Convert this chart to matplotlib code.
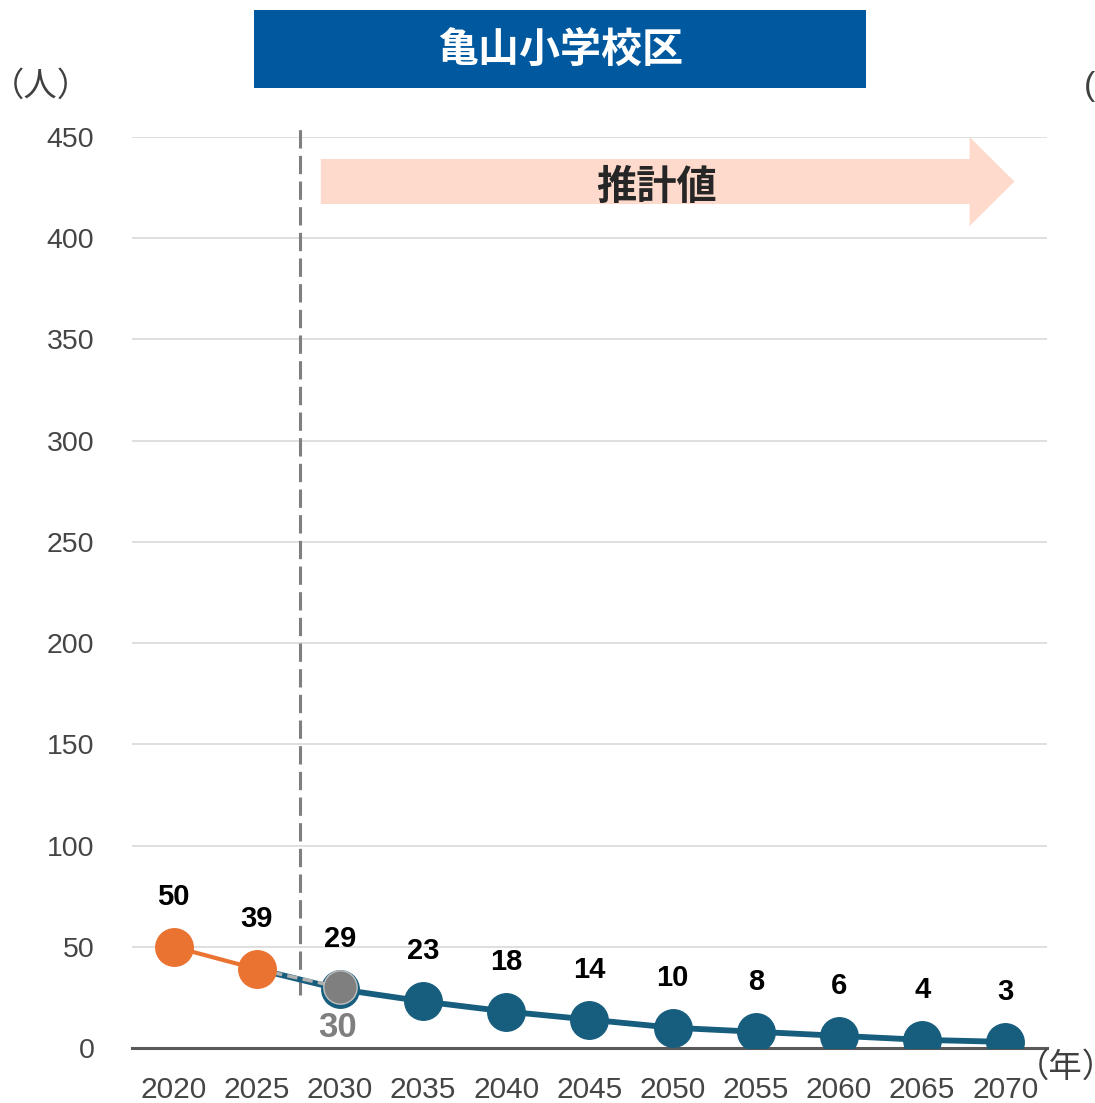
import matplotlib
matplotlib.use("Agg")
import matplotlib.pyplot as plt
from matplotlib.patches import Polygon, Rectangle

plt.rcParams['font.family'] = ['Liberation Sans', 'Noto Sans CJK JP', 'DejaVu Sans']

# 亀山小学校区の児童数（実績と推計）
years = ['2020', '2025', '2030', '2035', '2040', '2045', '2050', '2055', '2060', '2065', '2070']
actual = [50, 39]                                   # 実績値
projected = [39, 29, 23, 18, 14, 10, 8, 6, 4, 3]     # 推計値 (2025-2070)
previous_2030 = 30                                  # 前回推計の2030年値

title = '亀山小学校区'
arrow_label = '推計値'

orange = '#EB7332'
blue = '#175E7E'
grey = '#7F7F7F'
text_grey = '#454545'

fig = plt.figure(figsize=(10.95, 11.03), dpi=100)
ax = fig.add_axes([0.1205, 0.0499, 0.8356, 0.8259])

x = list(range(len(years)))
ax.set_xlim(-0.5, len(years) - 0.5)
ax.set_ylim(0, 450)
ax.set_yticks(range(0, 451, 50))
ax.set_xticks(x)
ax.set_xticklabels(years)
ax.grid(axis='y', color='#D9D9D9', linewidth=1.2)
ax.set_axisbelow(True)
for s in ['left', 'right', 'top']:
    ax.spines[s].set_visible(False)
ax.spines['bottom'].set_color('#595959')
ax.spines['bottom'].set_linewidth(2.2)
ax.spines['bottom'].set_zorder(1)
ax.tick_params(axis='both', length=0, labelcolor=text_grey)
ax.tick_params(axis='y', pad=27, labelsize=20.5)
ax.tick_params(axis='x', pad=20, labelsize=21.5)

# 実績と推計の境界
ax.plot([1.52, 1.52], [26, 454], color=grey, linewidth=2.2,
        linestyle=(0, (6, 2.4)), clip_on=False, zorder=2)

# 推計値の矢印
ax.add_patch(Polygon([(1.77, 416.9), (9.57, 416.9), (9.57, 406), (10.11, 428),
                      (9.57, 450), (9.57, 439.1), (1.77, 439.1)],
                     closed=True, facecolor='#FDDACB', edgecolor='none',
                     clip_on=False, zorder=2))
ax.text(5.81, 425, arrow_label, ha='center', va='center', fontsize=29,
        fontweight='bold', color='#262626', zorder=3)

# 推計（青）
ax.plot(x[1:], projected, color=blue, linewidth=4.2, zorder=4)
ax.plot(x[2:], projected[1:], linestyle='none', marker='o', markersize=27,
        color=blue, zorder=5)
# 実績（オレンジ）
ax.plot(x[:2], actual, color=orange, linewidth=3, marker='o', markersize=27,
        zorder=6)
# 前回推計（グレー）
ax.plot([1, 2], [actual[1], previous_2030], color='#B0B0B0', linewidth=2.5,
        linestyle=(0, (3, 1.5)), zorder=5.5)
ax.plot([2], [previous_2030], linestyle='none', marker='o', markersize=24,
        color=grey, markeredgecolor='#BFBFBF', markeredgewidth=1, zorder=7)

for xi, v in zip(x[:2], actual):
    ax.annotate(str(v), (xi, v), xytext=(0, 36), textcoords='offset points',
                ha='center', va='center', fontsize=21, fontweight='bold',
                color='black', zorder=8)
for xi, v in zip(x[2:], projected[1:]):
    ax.annotate(str(v), (xi, v), xytext=(0, 36), textcoords='offset points',
                ha='center', va='center', fontsize=21, fontweight='bold',
                color='black', zorder=8)
ax.annotate(str(previous_2030), (2, previous_2030), xytext=(-2, -29),
            textcoords='offset points', ha='center', va='center', fontsize=25,
            fontweight='bold', color=grey, zorder=8)

# タイトル
fig.add_artist(Rectangle((254 / 1095, 1 - 88 / 1103), 612 / 1095, 78 / 1103,
                         transform=fig.transFigure, facecolor='#00589F',
                         edgecolor='none'))
fig.text(560 / 1095, 1 - 50 / 1103, title, ha='center', va='center',
         fontsize=29.5, fontweight='bold', color='white')

# 単位
fig.text(41 / 1095, 1 - 87 / 1103, '（人）', ha='center', va='center',
         fontsize=24, color='#404040')
fig.text(1084 / 1095, 1 - 87 / 1103, '(', ha='left', va='center',
         fontsize=24, color='#404040')
fig.text(1066 / 1095, 1 - 1068 / 1103, '（年）', ha='center', va='center',
         fontsize=24, color='#404040')

fig.savefig('out.png', dpi=100)
